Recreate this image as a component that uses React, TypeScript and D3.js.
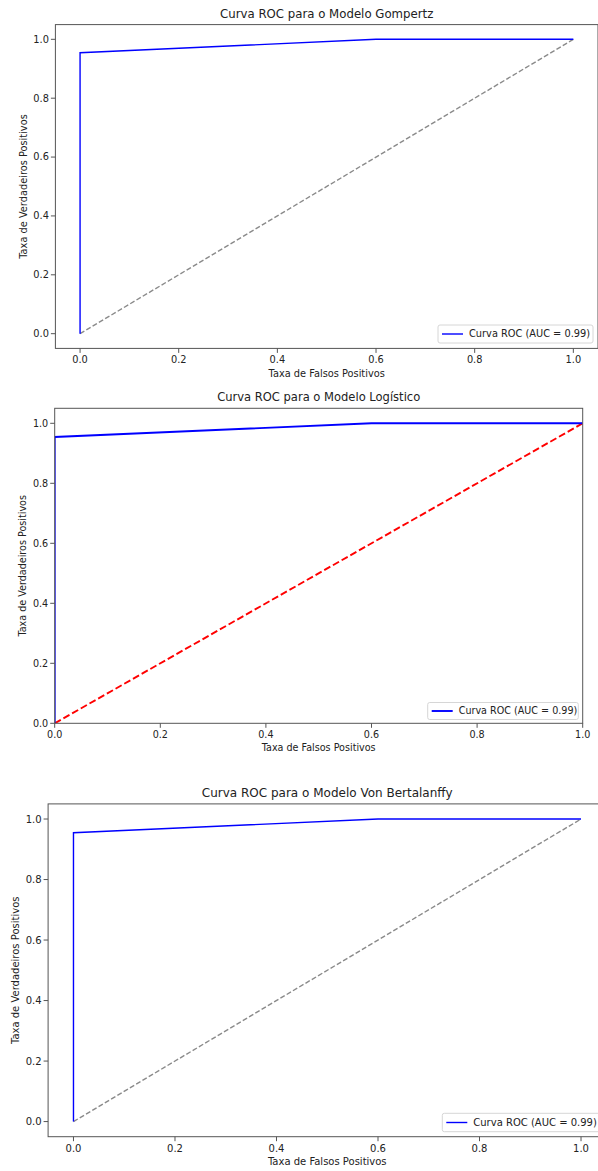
import React from 'react';
import * as d3 from 'd3';

// ROC points (same curve in all three models)
const fpr = [0, 0, 0.6, 1.0];
const tpr = [0, 0.9545, 1.0, 1.0];
const chance = [0, 1];
const tickValues = [0, 0.2, 0.4, 0.6, 0.8, 1.0];
const titles = [
  'Curva ROC para o Modelo Gompertz',
  'Curva ROC para o Modelo Logístico',
  'Curva ROC para o Modelo Von Bertalanffy',
];
const legendLabel = 'Curva ROC (AUC = 0.99)';
const xLabel = 'Taxa de Falsos Positivos';
const yLabel = 'Taxa de Verdadeiros Positivos';

const font = '"DejaVu Sans", sans-serif';
const fmt = d3.format('.1f');

type PanelProps = {
  title: string;
  x0: number; x1: number; y0: number; y1: number; // pixel ranges
  xDomain: [number, number]; yDomain: [number, number];
  fs: number;
  lw: number;
  diagColor: string;
  diagDash: string;
  titleY: number; xLabelY: number; yLabelX: number;
  legend: { x: number; y: number; w: number; h: number };
  id: string;
};

const Panel = (p: PanelProps) => {
  const xScale = d3.scaleLinear().domain(p.xDomain).range([p.x0, p.x1]);
  const yScale = d3.scaleLinear().domain(p.yDomain).range([p.y1, p.y0]);
  const line = d3.line<number>()
    .x((d, i) => xScale(fpr[i]))
    .y(d => yScale(d));
  const diag = d3.line<number>()
    .x(d => xScale(d))
    .y(d => yScale(d));
  const spine = '#555';
  const cx = (p.x0 + p.x1) / 2;
  const cy = (p.y0 + p.y1) / 2;
  const lg = p.legend;

  return (
    <g fontFamily={font} fill="#222">
      <defs>
        <clipPath id={p.id}>
          <rect x={p.x0} y={p.y0} width={p.x1 - p.x0} height={p.y1 - p.y0} />
        </clipPath>
      </defs>
      <g clipPath={`url(#${p.id})`}>
        <path d={diag(chance) || ''} fill="none" stroke={p.diagColor} strokeWidth={p.lw} strokeDasharray={p.diagDash} />
        <path d={line(tpr) || ''} fill="none" stroke="#0000ff" strokeWidth={p.lw} />
      </g>
      <rect x={p.x0} y={p.y0} width={p.x1 - p.x0} height={p.y1 - p.y0} fill="none" stroke={spine} strokeWidth={1} />
      {tickValues.map(t => (
        <g key={'x' + t}>
          <line x1={xScale(t)} x2={xScale(t)} y1={p.y1} y2={p.y1 + 4.5} stroke={spine} />
          <text x={xScale(t)} y={p.y1 + 6} dy="0.9em" textAnchor="middle" fontSize={p.fs}>{fmt(t)}</text>
        </g>
      ))}
      {tickValues.map(t => (
        <g key={'y' + t}>
          <line x1={p.x0 - 4.5} x2={p.x0} y1={yScale(t)} y2={yScale(t)} stroke={spine} />
          <text x={p.x0 - 6.5} y={yScale(t)} dy="0.35em" textAnchor="end" fontSize={p.fs}>{fmt(t)}</text>
        </g>
      ))}
      <text x={cx} y={p.titleY} dy="0.35em" textAnchor="middle" fontSize={p.fs * 1.2}>{p.title}</text>
      <text x={cx} y={p.xLabelY} dy="0.35em" textAnchor="middle" fontSize={p.fs}>{xLabel}</text>
      <text transform={`translate(${p.yLabelX},${cy}) rotate(-90)`} dy="0.35em" textAnchor="middle" fontSize={p.fs}>{yLabel}</text>
      <rect x={lg.x} y={lg.y} width={lg.w} height={lg.h} rx={2} fill="white" fillOpacity={0.8} stroke="#d6d6d6" />
      <line x1={lg.x + 4} x2={lg.x + 25} y1={lg.y + lg.h / 2} y2={lg.y + lg.h / 2} stroke="#0000ff" strokeWidth={p.lw} />
      <text x={lg.x + 31} y={lg.y + lg.h / 2} dy="0.35em" fontSize={p.fs}>{legendLabel}</text>
    </g>
  );
};

const App = () => {
  const panels: PanelProps[] = [
    {
      id: 'c1', title: titles[0],
      x0: 55.4, x1: 598, y0: 24.6, y1: 348.4,
      xDomain: [-0.05, 1.05], yDomain: [-0.05, 1.05],
      fs: 9.8, lw: 1.4, diagColor: '#8a8a8a', diagDash: '5,2.3',
      titleY: 13.5, xLabelY: 374, yLabelX: 24,
      legend: { x: 438, y: 325, w: 155, h: 18 },
    },
    {
      id: 'c2', title: titles[1],
      x0: 54.7, x1: 582.7, y0: 408.3, y1: 723.3,
      xDomain: [0, 1], yDomain: [0, 1.05],
      fs: 9.6, lw: 1.9, diagColor: '#ff0000', diagDash: '7,3',
      titleY: 396.5, xLabelY: 747.5, yLabelX: 23,
      legend: { x: 427.7, y: 702.5, w: 150.6, h: 17 },
    },
    {
      id: 'c3', title: titles[2],
      x0: 48.1, x1: 606.4, y0: 803.9, y1: 1136.7,
      xDomain: [-0.05, 1.05], yDomain: [-0.05, 1.05],
      fs: 10, lw: 1.4, diagColor: '#8a8a8a', diagDash: '5,2.3',
      titleY: 793, xLabelY: 1161.5, yLabelX: 15,
      legend: { x: 442.3, y: 1113.3, w: 160, h: 18.4 },
    },
  ];
  return (
    <div style={{ position: 'absolute', left: 0, top: 0 }}>
      <svg width={598} height={1171} style={{ display: 'block', background: 'white' }}>
        {panels.map(p => <Panel key={p.id} {...p} />)}
      </svg>
    </div>
  );
};

export default App;
